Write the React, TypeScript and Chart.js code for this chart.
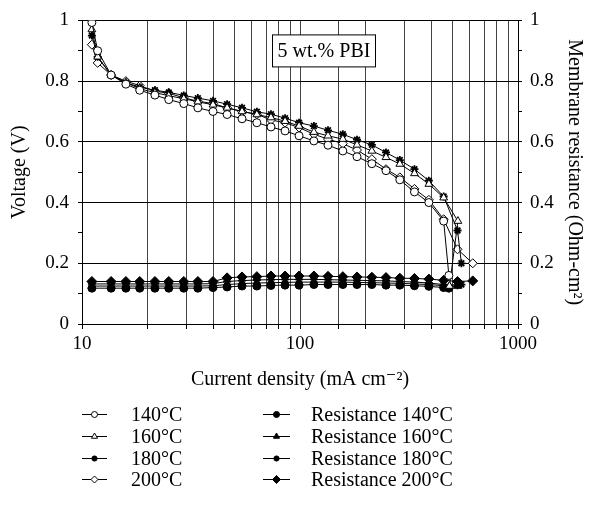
import React, { useEffect, useRef } from 'react';
import { Chart, registerables } from 'chart.js';
import { drawPoint } from 'chart.js/helpers';

Chart.register(...registerables);

// ---------- data ----------
const X_TICK_LABELS = ['10', '100', '1000'];
const Y_TICK_LABELS = ['0', '0.2', '0.4', '0.6', '0.8', '1'];

const currentDensity = [11.1, 11.8, 13.6, 15.9, 18.4, 21.6, 25.0, 29.3, 34.0, 39.9, 46.3, 54.2, 63.4, 73.6, 85.4, 99.0, 115.8, 134.4, 157.2, 182.6, 213.6, 248, 287, 335, 390, 456];

const cd140 = [...currentDensity, 482];
const v140 = [0.993, 0.90, 0.82, 0.79, 0.77, 0.754, 0.739, 0.726, 0.712, 0.70, 0.69, 0.676, 0.663, 0.649, 0.636, 0.62, 0.603, 0.589, 0.57, 0.551, 0.528, 0.505, 0.475, 0.435, 0.40, 0.339, 0.16];

const cd160 = [...currentDensity, 530, 485];
const v160 = [0.97, 0.88, 0.82, 0.795, 0.775, 0.762, 0.752, 0.742, 0.732, 0.722, 0.712, 0.70, 0.69, 0.68, 0.668, 0.652, 0.632, 0.62, 0.609, 0.59, 0.57, 0.549, 0.527, 0.496, 0.461, 0.416, 0.339, 0.125];

const cd180 = [...currentDensity, 528, 550];
const v180 = [0.95, 0.88, 0.82, 0.795, 0.78, 0.77, 0.763, 0.753, 0.744, 0.735, 0.724, 0.712, 0.699, 0.691, 0.678, 0.663, 0.652, 0.638, 0.625, 0.607, 0.59, 0.565, 0.54, 0.51, 0.472, 0.42, 0.308, 0.2];

const cd200 = [...currentDensity, 528, 620];
const v200 = [0.92, 0.86, 0.82, 0.80, 0.785, 0.767, 0.76, 0.745, 0.734, 0.726, 0.712, 0.70, 0.691, 0.672, 0.663, 0.647, 0.625, 0.609, 0.594, 0.573, 0.543, 0.51, 0.483, 0.445, 0.409, 0.345, 0.246, 0.2];

const resistanceDensity = [11.1, 13.6, 15.9, 18.4, 21.6, 25.0, 29.3, 34.0, 39.9, 46.3, 54.2, 63.4, 73.6, 85.4, 99.0, 115.8, 134.4, 157.2, 182.6, 213.6, 248, 287, 335, 390, 456];

const rcd140 = [...resistanceDensity, 482];
const r140 = [0.118, 0.118, 0.118, 0.118, 0.118, 0.118, 0.118, 0.118, 0.12, 0.122, 0.125, 0.125, 0.127, 0.128, 0.128, 0.13, 0.13, 0.13, 0.13, 0.13, 0.128, 0.128, 0.126, 0.124, 0.12, 0.118];

const rcd160 = [...resistanceDensity, 482, 528];
const r160 = [0.125, 0.125, 0.125, 0.125, 0.125, 0.125, 0.125, 0.125, 0.126, 0.13, 0.133, 0.135, 0.136, 0.137, 0.138, 0.138, 0.138, 0.138, 0.137, 0.136, 0.135, 0.134, 0.132, 0.13, 0.126, 0.122, 0.125];

const rcd180 = [...resistanceDensity, 528, 550];
const r180 = [0.132, 0.132, 0.132, 0.132, 0.132, 0.132, 0.132, 0.132, 0.133, 0.14, 0.143, 0.145, 0.146, 0.147, 0.147, 0.147, 0.146, 0.145, 0.144, 0.143, 0.142, 0.14, 0.138, 0.135, 0.13, 0.128, 0.13];

const rcd200 = [...resistanceDensity, 528, 620];
const r200 = [0.14, 0.14, 0.14, 0.14, 0.14, 0.14, 0.14, 0.14, 0.14, 0.152, 0.155, 0.156, 0.158, 0.158, 0.158, 0.158, 0.157, 0.156, 0.155, 0.154, 0.153, 0.151, 0.15, 0.148, 0.144, 0.14, 0.142];

const LABELS = ['140°C', '160°C', '180°C', '200°C', 'Resistance 140°C', 'Resistance 160°C', 'Resistance 180°C', 'Resistance 200°C'];
const ANNOTATION = '5 wt.% PBI';

const FONT = "'Liberation Serif', 'DejaVu Serif', serif";
const TEXT_SIZE = 20;
const TICK_SIZE = 19;

const toPoints = (xs: number[], ys: number[]) => xs.map((x, i) => ({ x, y: ys[i] }));

const isMajorY = (v: number) => Math.round(v * 10) % 2 === 0;
const yLabel = (v: number) => (isMajorY(v) ? Y_TICK_LABELS[Math.round(v * 5)] : '');
const xLabel = (v: number) => {
  const l = Math.log10(v);
  if (Math.abs(l - Math.round(l)) < 1e-6) return X_TICK_LABELS[Math.round(l) - 1] ?? '';
  return '';
};

const series = (label: string, xs: number[], ys: number[], style: string, radius: number, filled: boolean, axis: string) => ({
  label,
  data: toPoints(xs, ys),
  yAxisID: axis,
  borderColor: '#000',
  borderWidth: 1,
  pointStyle: style,
  pointRadius: radius,
  pointBorderWidth: style === 'star' ? 1.8 : 1,
  pointBorderColor: '#000',
  pointBackgroundColor: filled ? '#000' : '#fff',
  showLine: true,
  fill: false,
  tension: 0,
});

const overlayPlugin = {
  id: 'overlay',
  afterDatasetsDraw(chart: any) {
    const { ctx, chartArea } = chart;
    ctx.save();
    const bx = chartArea.left + 190.5;
    const by = chartArea.top + 14.5;
    const bw = 103;
    const bh = 32;
    ctx.fillStyle = '#fff';
    ctx.fillRect(bx, by, bw, bh);
    ctx.strokeStyle = '#000';
    ctx.lineWidth = 1;
    ctx.strokeRect(bx, by, bw, bh);
    ctx.fillStyle = '#000';
    ctx.font = `${TEXT_SIZE}px ${FONT}`;
    ctx.textAlign = 'center';
    ctx.textBaseline = 'middle';
    ctx.fillText(ANNOTATION, bx + bw / 2, by + bh / 2 + 1);
    ctx.restore();
  },
  afterDraw(chart: any) {
    const { ctx } = chart;
    const ds = chart.data.datasets;
    ctx.save();
    const rowY0 = 414;
    const rowStep = 21.8;
    const cols = [
      { lineL: 82, lineR: 107, text: 131 },
      { lineL: 263, lineR: 290, text: 311 },
    ];
    ds.forEach((d: any, i: number) => {
      const col = cols[i < 4 ? 0 : 1];
      const row = i % 4;
      const y = Math.round(rowY0 + row * rowStep) + 0.5;
      ctx.strokeStyle = '#000';
      ctx.lineWidth = 1;
      ctx.beginPath();
      ctx.moveTo(col.lineL, y);
      ctx.lineTo(col.lineR, y);
      ctx.stroke();
      ctx.fillStyle = d.pointBackgroundColor;
      ctx.strokeStyle = '#000';
      ctx.lineWidth = d.pointBorderWidth;
      drawPoint(ctx, { pointStyle: d.pointStyle, radius: Math.max(3, d.pointRadius - 1), borderWidth: d.pointBorderWidth, rotation: 0 } as any, (col.lineL + col.lineR) / 2, y);
      ctx.fillStyle = '#000';
      ctx.font = `${TEXT_SIZE}px ${FONT}`;
      ctx.textAlign = 'left';
      ctx.textBaseline = 'middle';
      ctx.fillText(d.label, col.text, y + 1);
    });
    ctx.restore();
  },
};

export default function App() {
  const ref = useRef<HTMLCanvasElement | null>(null);

  useEffect(() => {
    if (!ref.current) return;
    Chart.defaults.font.family = FONT;
    Chart.defaults.color = '#000';
    const chart = new Chart(ref.current, {
      type: 'scatter',
      data: {
        datasets: [
          series(LABELS[0], cd140, v140, 'circle', 4, false, 'y'),
          series(LABELS[1], cd160, v160, 'triangle', 4.5, false, 'y'),
          series(LABELS[2], cd180, v180, 'star', 4, true, 'y'),
          series(LABELS[3], cd200, v200, 'rectRot', 4.5, false, 'y'),
          series(LABELS[4], rcd140, r140, 'circle', 4, true, 'y1'),
          series(LABELS[5], rcd160, r160, 'triangle', 4.5, true, 'y1'),
          series(LABELS[6], rcd180, r180, 'star', 4, true, 'y1'),
          series(LABELS[7], rcd200, r200, 'rectRot', 5, true, 'y1'),
        ] as any,
      },
      options: {
        animation: false,
        responsive: false,
        layout: { padding: { top: 19, bottom: 118, left: 0, right: 0 } },
        plugins: { legend: { display: false }, tooltip: { enabled: false } },
        scales: {
          x: {
            type: 'logarithmic',
            position: 'bottom',
            min: 10,
            max: 1000,
            ticks: { autoSkip: false, maxRotation: 0, minRotation: 0, padding: 4, font: { size: TICK_SIZE }, color: '#000', callback: (v: any) => xLabel(Number(v)) },
            grid: { color: '#444', tickColor: '#000', tickLength: 5, lineWidth: 1 },
            border: { color: '#000', width: 1 },
            title: { display: true, text: 'Current density (mA cm⁻²)', font: { size: TEXT_SIZE }, color: '#000', padding: { top: 0, bottom: 0 } },
            afterFit: (s: any) => { s.height = 68; },
          },
          y: {
            type: 'linear',
            position: 'left',
            min: 0,
            max: 1,
            ticks: { stepSize: 0.1, autoSkip: false, padding: 9, font: { size: TICK_SIZE }, color: '#000', callback: (v: any) => yLabel(Number(v)) },
            grid: { color: (c: any) => (isMajorY(c.tick.value) ? '#000' : 'rgba(0,0,0,0)'), tickColor: '#000', tickLength: 4, lineWidth: 1 },
            border: { color: '#000', width: 1 },
            title: { display: true, text: 'Voltage (V)', font: { size: TEXT_SIZE }, color: '#000', padding: { top: 8, bottom: 0 } },
            afterFit: (s: any) => { s.width = 82; },
          },
          y1: {
            type: 'linear',
            position: 'right',
            min: 0,
            max: 1,
            ticks: { stepSize: 0.1, autoSkip: false, padding: 8, font: { size: TICK_SIZE }, color: '#000', callback: (v: any) => yLabel(Number(v)) },
            grid: { drawOnChartArea: false, tickColor: '#000', tickLength: 4, lineWidth: 1 },
            border: { color: '#000', width: 1 },
            title: { display: true, text: 'Membrane resistance (Ohm-cm²)', font: { size: TEXT_SIZE }, color: '#000', padding: { top: 4, bottom: 0 } },
            afterFit: (s: any) => { s.width = 72; },
          },
        },
      } as any,
      plugins: [overlayPlugin],
    });
    return () => chart.destroy();
  }, []);

  return (
    <div style={{ position: 'fixed', left: 0, top: 0, width: 590, height: 510, background: '#fff' }}>
      <canvas ref={ref} width={590} height={510} style={{ display: 'block' }} />
    </div>
  );
}
